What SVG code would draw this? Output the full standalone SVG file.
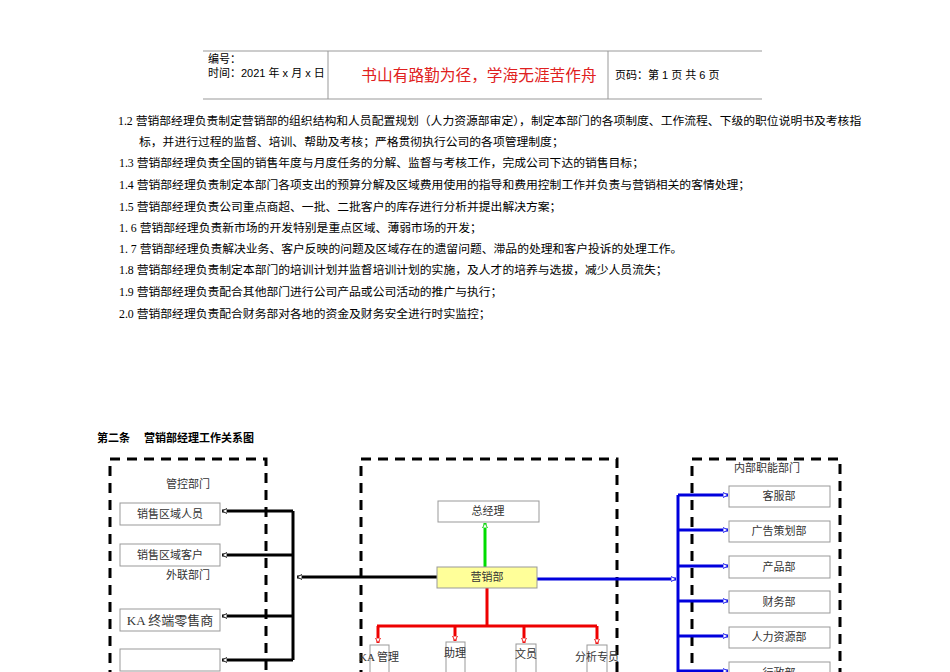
<svg xmlns="http://www.w3.org/2000/svg" width="950" height="672" viewBox="0 0 950 672">
<style>
.s{font-family:"Liberation Serif","Noto Sans CJK SC",serif;font-size:11.8px;fill:#000}
.h{font-family:"Liberation Sans","Noto Sans CJK SC",sans-serif;font-size:11px;fill:#000}
.n{font-family:"Liberation Serif","Noto Sans CJK SC",serif;font-size:11px;fill:#333;text-anchor:middle}
.box{fill:#fff;stroke:#999;stroke-width:1}
.dash{fill:none;stroke:#000;stroke-width:3;stroke-dasharray:10,7}
</style>
<defs>
<marker id="ak" markerWidth="6" markerHeight="6" refX="5" refY="3" orient="auto" markerUnits="userSpaceOnUse"><path d="M0,0.5 L5,3 L0,5.5Z" fill="#fff" stroke="#000" stroke-width="0.8"/></marker>
<marker id="ar" markerWidth="6" markerHeight="6" refX="5" refY="3" orient="auto" markerUnits="userSpaceOnUse"><path d="M0,0.5 L5,3 L0,5.5Z" fill="#fff" stroke="#e00" stroke-width="0.8"/></marker>
<marker id="ag" markerWidth="6" markerHeight="6" refX="5" refY="3" orient="auto" markerUnits="userSpaceOnUse"><path d="M0,0.5 L5,3 L0,5.5Z" fill="#fff" stroke="#0c0" stroke-width="0.8"/></marker>
<marker id="ab" markerWidth="6" markerHeight="6" refX="5" refY="3" orient="auto" markerUnits="userSpaceOnUse"><path d="M0,0.5 L5,3 L0,5.5Z" fill="#fff" stroke="#00e" stroke-width="0.8"/></marker>
</defs>
<rect width="950" height="672" fill="#fff"/>
<g id="header">
<line x1="203" y1="51" x2="762" y2="51" stroke="#999"/>
<line x1="203" y1="99" x2="762" y2="99" stroke="#999"/>
<line x1="328" y1="51" x2="328" y2="99" stroke="#999"/>
<line x1="608" y1="51" x2="608" y2="99" stroke="#999"/>
<text class="h" x="208" y="63">编号：</text>
<text class="h" x="208" y="77">时间：2021 年 x 月 x 日</text>
<text x="479" y="81" text-anchor="middle" style="font-family:'Noto Sans CJK SC',sans-serif;font-size:15.7px;fill:#e02020">书山有路勤为径，学海无涯苦作舟</text>
<text class="h" x="615" y="79">页码：第 1 页  共 6 页</text>
</g>
<g id="body">
<text class="s" x="118" y="125">1.2 营销部经理负责制定营销部的组织结构和人员配置规划（人力资源部审定），制定本部门的各项制度、工作流程、下级的职位说明书及考核指</text>
<text class="s" x="139" y="146">标，并进行过程的监督、培训、帮助及考核；严格贯彻执行公司的各项管理制度；</text>
<text class="s" x="119" y="167">1.3 营销部经理负责全国的销售年度与月度任务的分解、监督与考核工作，完成公司下达的销售目标；</text>
<text class="s" x="119" y="189">1.4 营销部经理负责制定本部门各项支出的预算分解及区域费用使用的指导和费用控制工作并负责与营销相关的客情处理；</text>
<text class="s" x="119" y="211">1.5 营销部经理负责公司重点商超、一批、二批客户的库存进行分析并提出解决方案；</text>
<text class="s" x="119" y="232">1. 6 营销部经理负责新市场的开发特别是重点区域、薄弱市场的开发；</text>
<text class="s" x="119" y="253">1. 7 营销部经理负责解决业务、客户反映的问题及区域存在的遗留问题、滞品的处理和客户投诉的处理工作。</text>
<text class="s" x="119" y="274">1.8 营销部经理负责制定本部门的培训计划并监督培训计划的实施，及人才的培养与选拔，减少人员流失；</text>
<text class="s" x="119" y="296">1.9 营销部经理负责配合其他部门进行公司产品或公司活动的推广与执行；</text>
<text class="s" x="119" y="318">2.0 营销部经理负责配合财务部对各地的资金及财务安全进行时实监控；</text>
<text x="97" y="442" style="font-family:'Liberation Serif','Noto Sans CJK SC',serif;font-size:11px;font-weight:bold">第二条</text>
<text x="144" y="442" style="font-family:'Liberation Serif','Noto Sans CJK SC',serif;font-size:11px;font-weight:bold">营销部经理工作关系图</text>
</g>
<g id="frames">
<path class="dash" d="M110,680 V459 H266 V680"/>
<path class="dash" d="M361,680 V459 H617 V680"/>
<path class="dash" d="M692,680 V459 H840 V680"/>
<text class="n" x="188" y="488">管控部门</text>
<text class="n" x="188" y="579">外联部门</text>
<text class="n" x="767" y="472">内部职能部门</text>
</g>
<g id="connectors" fill="none">
<g stroke="#000" stroke-width="3">
<path d="M293,511 V660"/>
<line x1="293" y1="511" x2="222" y2="511" marker-end="url(#ak)"/>
<line x1="293" y1="555" x2="222" y2="555" marker-end="url(#ak)"/>
<line x1="293" y1="616" x2="222" y2="616" marker-end="url(#ak)"/>
<line x1="293" y1="660" x2="222" y2="660" marker-end="url(#ak)"/>
<line x1="437" y1="577" x2="297" y2="577" marker-end="url(#ak)"/>
</g>
<line x1="485" y1="567" x2="485" y2="523" stroke="#0d0" stroke-width="3" marker-end="url(#ag)"/>
<g stroke="#e00" stroke-width="3">
<path d="M487,588 V626 M377,626 H597"/>
<line x1="378" y1="626" x2="378" y2="643" marker-end="url(#ar)"/>
<line x1="455" y1="626" x2="455" y2="641" marker-end="url(#ar)"/>
<line x1="524" y1="626" x2="524" y2="643" marker-end="url(#ar)"/>
<line x1="597" y1="626" x2="597" y2="644" marker-end="url(#ar)"/>
</g>
<g stroke="#00d" stroke-width="3">
<line x1="537" y1="579" x2="676" y2="579" marker-end="url(#ab)"/>
<path d="M678,495 V680"/>
<line x1="678" y1="495" x2="728" y2="495" marker-end="url(#ab)"/>
<line x1="678" y1="530" x2="728" y2="530" marker-end="url(#ab)"/>
<line x1="678" y1="566" x2="728" y2="566" marker-end="url(#ab)"/>
<line x1="678" y1="601" x2="728" y2="601" marker-end="url(#ab)"/>
<line x1="678" y1="636" x2="728" y2="636" marker-end="url(#ab)"/>
<line x1="678" y1="671" x2="728" y2="671" marker-end="url(#ab)"/>
</g>
</g>
<g id="n1"><rect class="box" x="120" y="503" width="100" height="22"/><text class="n" x="170" y="518">销售区域人员</text></g>
<g id="n2"><rect class="box" x="120" y="544" width="100" height="22"/><text class="n" x="170" y="559">销售区域客户</text></g>
<g id="n3"><rect class="box" x="120" y="609" width="100" height="22"/><text class="n" x="170" y="625" style="font-size:13px">KA 终端零售商</text></g>
<g id="n4"><rect class="box" x="120" y="649" width="100" height="22"/></g>
<g id="n5"><rect class="box" x="438" y="501" width="101" height="21"/><text class="n" x="488" y="515">总经理</text></g>
<g id="n6"><rect x="437" y="567" width="100" height="21" fill="#ffff99" stroke="#999"/><text class="n" x="487" y="581">营销部</text></g>
<g id="n7"><rect class="box" x="370" y="645" width="19" height="40"/><text class="n" x="379" y="661">KA 管理</text></g>
<g id="n8"><rect class="box" x="446" y="642" width="19" height="40"/><text class="n" x="455" y="657">助理</text></g>
<g id="n9"><rect class="box" x="516" y="644" width="20" height="40"/><text class="n" x="526" y="658">文员</text></g>
<g id="n10"><rect class="box" x="587" y="645" width="20" height="40"/><text class="n" x="597" y="661">分析专员</text></g>
<g id="r1"><rect class="box" x="729" y="486" width="101" height="21"/><text class="n" x="779" y="500">客服部</text></g>
<g id="r2"><rect class="box" x="729" y="521" width="101" height="21"/><text class="n" x="779" y="535">广告策划部</text></g>
<g id="r3"><rect class="box" x="729" y="556" width="101" height="22"/><text class="n" x="779" y="571">产品部</text></g>
<g id="r4"><rect class="box" x="729" y="591" width="101" height="22"/><text class="n" x="779" y="606">财务部</text></g>
<g id="r5"><rect class="box" x="729" y="627" width="101" height="21"/><text class="n" x="779" y="641">人力资源部</text></g>
<g id="r6"><rect class="box" x="729" y="662" width="101" height="22"/><text class="n" x="779" y="677">行政部</text></g>
</svg>
